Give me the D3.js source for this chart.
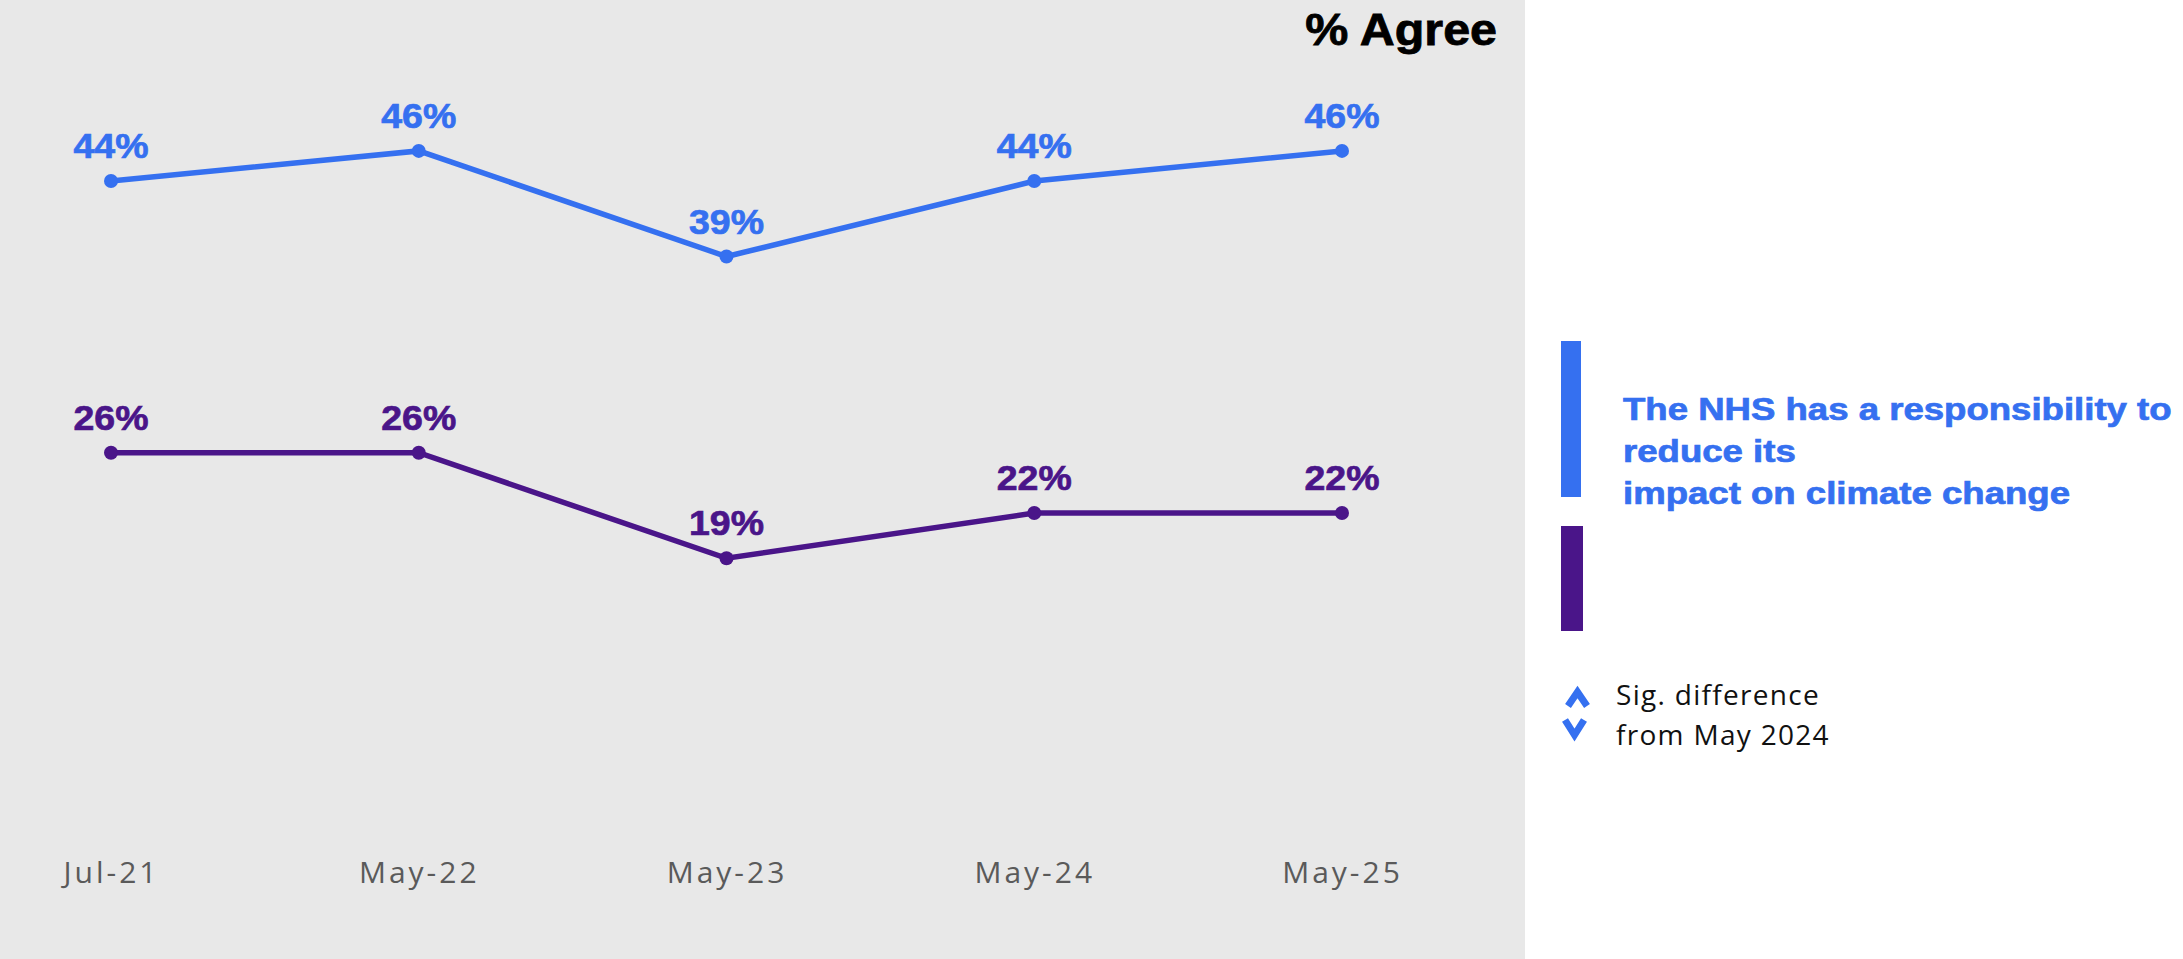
<!DOCTYPE html>
<html>
<head>
<meta charset="utf-8">
<script src="https://cdn.jsdelivr.net/npm/d3@7"></script>
<style>
  body { margin: 0; background: #fff; }
  svg { display: block; }
</style>
</head>
<body>
<div id="chart-area"></div>
<script>
  // Data
  var periods = ['Jul-21', 'May-22', 'May-23', 'May-24', 'May-25'];
  var responsibility = [44, 46, 39, 44, 46];
  var secondSeries = [26, 26, 19, 22, 22];
  var legendLines = ['The NHS has a responsibility to', 'reduce its', 'impact on climate change'];
  var sigLines = ['Sig. difference', 'from May 2024'];

  var blue = '#3570F0', purple = '#4A1589';
  var width = 2183, height = 959;

  var svg = d3.select('#chart-area')
              .append('svg')
              .attr('width', width)
              .attr('height', height);

  // grey plot panel
  svg.append('rect')
     .attr('x', 0).attr('y', 0)
     .attr('width', 1525).attr('height', height)
     .attr('fill', '#e8e8e8');

  // Scales
  var x = d3.scalePoint()
            .domain(periods)
            .range([111, 1342]);
  var y = d3.scaleLinear()
            .domain([0, 56])
            .range([845, 0]);

  // x axis, labels only
  var xAxisCall = d3.axisBottom(x).tickSize(0).tickPadding(17);
  var xAxis = svg.append('g')
     .attr('class', 'x axis')
     .attr('transform', 'translate(0,' + y(0) + ')')
     .call(xAxisCall);
  xAxis.select('.domain').remove();
  xAxis.selectAll('text')
       .attr('font-family', '"Open Sans", sans-serif')
       .attr('font-size', '30px')
       .attr('letter-spacing', '3px')
       .attr('fill', '#5a5a5a');

  // bold text, stretched a little to match the heavier face of the original
  function wideText(sel, sx) {
    sel.attr('transform', function() {
      var t = d3.select(this);
      var tx = +t.attr('x'), ty = +t.attr('y');
      return 'translate(' + tx + ',' + ty + ') scale(' + sx + ',1)';
    }).attr('x', 0).attr('y', 0);
  }

  svg.append('text')
     .attr('x', 1497)
     .attr('y', 45)
     .attr('text-anchor', 'end')
     .attr('font-family', '"Liberation Sans", Arial, sans-serif')
     .attr('font-weight', 'bold')
     .attr('font-size', '44px')
     .attr('fill', '#000')
     .attr('stroke', '#000')
     .attr('stroke-width', 0.8)
     .text('% Agree')
     .call(wideText, 1.1);

  var line = d3.line()
      .x(function(d, i) { return x(periods[i]); })
      .y(function(d) { return y(d); });

  function drawSeries(values, color) {
    var g = svg.append('g');
    g.append('path')
     .attr('d', line(values))
     .attr('fill', 'none')
     .attr('stroke', color)
     .attr('stroke-width', 5.5);
    g.selectAll('circle')
     .data(values)
     .enter().append('circle')
     .attr('cx', function(d, i) { return x(periods[i]); })
     .attr('cy', function(d) { return y(d); })
     .attr('r', 7)
     .attr('fill', color);
    g.selectAll('text')
     .data(values)
     .enter().append('text')
     .attr('x', function(d, i) { return x(periods[i]); })
     .attr('y', function(d) { return y(d) - 23; })
     .attr('text-anchor', 'middle')
     .attr('font-family', '"Liberation Sans", Arial, sans-serif')
     .attr('font-weight', 'bold')
     .attr('font-size', '35px')
     .attr('fill', color)
     .attr('stroke', color)
     .attr('stroke-width', 0.7)
     .text(function(d) { return d + '%'; })
     .call(wideText, 1.07);
  }
  drawSeries(responsibility, blue);
  drawSeries(secondSeries, purple);

  // Legend
  var legend = svg.append('g');
  legend.append('rect')
        .attr('x', 1561).attr('y', 341)
        .attr('width', 20).attr('height', 156)
        .attr('fill', blue);
  legend.append('rect')
        .attr('x', 1561).attr('y', 526)
        .attr('width', 22).attr('height', 105)
        .attr('fill', purple);
  legend.selectAll('text.lbl')
        .data(legendLines)
        .enter().append('text')
        .attr('class', 'lbl')
        .attr('x', 1623)
        .attr('y', function(d, i) { return 420 + i * 42; })
        .attr('font-family', '"Liberation Sans", Arial, sans-serif')
        .attr('font-weight', 'bold')
        .attr('font-size', '31px')
        .attr('fill', blue)
        .attr('stroke', blue)
        .attr('stroke-width', 0.7)
        .text(function(d) { return d; })
        .call(wideText, 1.18);

  // significance key
  var sig = svg.append('g');
  sig.append('path')
     .attr('d', 'M1568,706 L1577.5,692 L1587,706')
     .attr('fill', 'none').attr('stroke', blue)
     .attr('stroke-width', 7).attr('stroke-linejoin', 'miter');
  sig.append('path')
     .attr('d', 'M1565,720 L1574.5,735 L1584,720')
     .attr('fill', 'none').attr('stroke', blue)
     .attr('stroke-width', 7).attr('stroke-linejoin', 'miter');
  sig.selectAll('text')
     .data(sigLines)
     .enter().append('text')
     .attr('x', 1616)
     .attr('y', function(d, i) { return 705 + i * 40; })
     .attr('font-family', '"Open Sans", sans-serif')
     .attr('font-size', '28px')
     .attr('letter-spacing', '1.3px')
     .attr('fill', '#111')
     .text(function(d) { return d; });
</script>
</body>
</html>
